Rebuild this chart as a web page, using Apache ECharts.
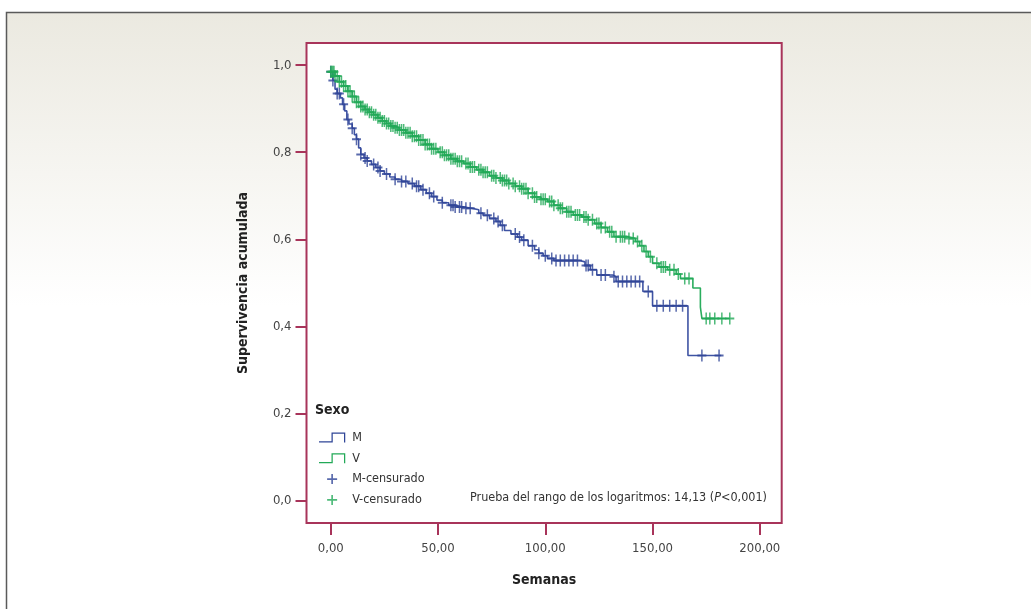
<!DOCTYPE html>
<html>
<head>
<meta charset="utf-8">
<script src="https://cdn.jsdelivr.net/npm/echarts@6/dist/echarts.min.js"></script>
<style>
  html, body { margin: 0; padding: 0; background: #fff; }
  #chart { width: 1031px; height: 609px; }
</style>
</head>
<body>
<div id="chart"></div>
<script>
// Kaplan-Meier curves by sex: step times (semanas) and cumulative survival after each step
var mTimes = [0, 1, 2, 3, 4.5, 5.5, 6.5, 7.5, 8.5, 10, 11, 12, 13, 14, 15.5, 17, 19, 21, 23, 25, 27.5, 30, 33, 36, 39, 42, 44.5, 47, 49.5, 52, 55, 58, 62, 66, 69, 71, 74, 77, 79, 81, 84, 87, 89, 92, 95, 97, 99, 101, 104, 116, 118.5, 121, 124, 131.5, 133, 145.5, 150, 166.5, 182];
var mSurv = [0.985, 0.965, 0.945, 0.935, 0.925, 0.91, 0.895, 0.875, 0.865, 0.855, 0.84, 0.83, 0.81, 0.795, 0.787, 0.78, 0.772, 0.765, 0.757, 0.75, 0.743, 0.738, 0.733, 0.728, 0.722, 0.714, 0.706, 0.698, 0.69, 0.684, 0.678, 0.674, 0.671, 0.668, 0.66, 0.655, 0.648, 0.641, 0.632, 0.62, 0.612, 0.605, 0.598, 0.585, 0.576, 0.568, 0.562, 0.556, 0.551, 0.548, 0.54, 0.53, 0.518, 0.514, 0.503, 0.48, 0.447, 0.333, 0.333];
var vTimes = [0, 2, 4, 6, 8, 10, 12, 14, 16, 18, 20, 22, 24, 26, 28, 30, 32, 35, 38, 41, 44, 47, 50, 53, 56, 59, 62, 65, 68, 71, 74, 77, 80, 83, 86, 89, 92, 95, 98, 101, 104, 107, 110, 113, 117, 120, 123, 126, 129, 132, 138, 142, 144, 146, 148, 150, 153, 157, 161, 163, 168.8, 172.3, 173, 186];
var vSurv = [0.985, 0.975, 0.962, 0.952, 0.94, 0.928, 0.915, 0.905, 0.898, 0.892, 0.886, 0.879, 0.872, 0.866, 0.86, 0.856, 0.851, 0.845, 0.837, 0.828, 0.818, 0.808, 0.8, 0.793, 0.785, 0.779, 0.774, 0.766, 0.76, 0.754, 0.746, 0.741, 0.735, 0.728, 0.722, 0.716, 0.706, 0.697, 0.692, 0.687, 0.678, 0.671, 0.663, 0.656, 0.651, 0.645, 0.636, 0.627, 0.617, 0.606, 0.602, 0.595, 0.585, 0.572, 0.56, 0.545, 0.536, 0.53, 0.52, 0.51, 0.488, 0.444, 0.418, 0.418];
// censored observations (semanas)
var mCensor = [0, 1, 3, 4, 6, 8, 10, 12, 14, 16, 17, 20, 22, 23, 26, 30, 33, 35, 38, 40, 41, 43, 46, 48, 52, 56, 57, 58, 60, 61, 63, 65, 70, 73, 76, 78, 80, 86, 88, 90, 94, 97, 100, 103, 105, 107, 109, 111, 113, 115, 119, 120, 122, 126, 128, 132, 134, 136, 138, 140, 142, 144, 148, 152, 155, 158, 161, 164, 173, 181];
var vCensor = [0, 0.5, 1, 1.5, 2, 3, 4, 5, 6, 7, 8, 9, 10, 11, 12, 13, 14, 15, 16, 17, 18, 19, 20, 21, 22, 23, 24, 25, 26, 27, 28, 29, 30, 31, 32, 33, 34, 35, 36, 37, 38, 39, 40, 41, 42, 43, 44, 45, 46, 47, 48, 49, 51, 52, 53, 54, 55, 56, 57, 58, 59, 60, 61, 63, 64, 65, 66, 67, 69, 70, 71, 72, 73, 75, 76, 77, 79, 80, 81, 82, 83, 85, 86, 88, 89, 90, 91, 92, 94, 95, 96, 98, 99, 100, 102, 103, 104, 106, 107, 108, 110, 111, 112, 114, 115, 116, 118, 119, 120, 122, 124, 125, 126, 128, 130, 131, 133, 135, 136, 137, 139, 141, 143, 145, 147, 149, 152, 154, 155, 156, 158, 160, 162, 165, 167, 175, 176.7, 179, 182.3, 186];
var xTicks = [0, 50, 100, 150, 200];
var yTicks = [0, 0.2, 0.4, 0.6, 0.8, 1.0];

var font = "'DejaVu Sans Condensed', 'Liberation Sans', sans-serif";
var frame = '#a8345a';
var blue = '#2f4597';
var green = '#22a957';
var plusIcon = 'path://M3.75,0h1.5v3.75h3.75v1.5h-3.75v3.75h-1.5v-3.75h-3.75v-1.5h3.75z';
var stepIcon = 'path://M0,7H10V0H21V8H20V1H11V8H0Z';

function pairs(times, surv) {
  return times.map(function(t, i) { return [t, surv[i]]; });
}
function censored(times, surv, cens) {
  return cens.map(function(c) {
    var s = surv[0];
    for (var i = 0; i < times.length; i++) { if (times[i] <= c) s = surv[i]; }
    return [c, s];
  });
}

var chart = echarts.init(document.getElementById('chart'));
chart.setOption({
  animation: false,
  textStyle: { fontFamily: font },
  graphic: [
    {
      type: 'rect', z: -10, silent: true,
      shape: { x: 6.5, y: 12.5, width: 1100, height: 700 },
      style: {
        fill: new echarts.graphic.LinearGradient(0, 0, 0, 1, [
          { offset: 0, color: '#ebe9e0' },
          { offset: 0.42, color: '#ffffff' },
          { offset: 1, color: '#ffffff' }
        ]),
        stroke: '#5a5a5a', lineWidth: 1.5
      }
    },
    {
      type: 'text', left: 315, top: 403,
      style: { text: 'Sexo', fill: '#222', font: 'bold 14px ' + font }
    },
    {
      type: 'text', right: 264, top: 491,
      style: {
        text: '{a|Prueba del rango de los logaritmos: 14,13 (}{i|P}{a|<0,001)}',
        rich: {
          a: { fontSize: 12.5, fontFamily: font, fill: '#333' },
          i: { fontSize: 12.5, fontFamily: font, fontStyle: 'italic', fill: '#333' }
        }
      }
    }
  ],
  grid: {
    left: 306.5, top: 43, right: 249.3, bottom: 86,
    show: true, backgroundColor: '#ffffff',
    borderColor: frame, borderWidth: 2
  },
  legend: {
    orient: 'vertical', left: 314, top: 426,
    itemWidth: 30, itemHeight: 10, itemGap: 7.8,
    textStyle: { fontSize: 12.5, color: '#333', fontFamily: font },
    data: [
      { name: 'M', icon: stepIcon },
      { name: 'V', icon: stepIcon },
      { name: 'M-censurado', icon: plusIcon },
      { name: 'V-censurado', icon: plusIcon }
    ]
  },
  xAxis: {
    type: 'value', min: -11.3, max: 210.2,
    name: 'Semanas', nameLocation: 'middle', nameGap: 50,
    nameTextStyle: { fontSize: 14, fontWeight: 'bold', color: '#222', fontFamily: font },
    axisLine: { show: false, onZero: false },
    splitLine: { show: false },
    axisTick: { show: true, length: 12, customValues: xTicks, lineStyle: { color: frame, width: 2 } },
    axisLabel: {
      customValues: xTicks, margin: 19, fontSize: 13, color: '#444',
      formatter: function(v) { return v.toFixed(2).replace('.', ','); }
    }
  },
  yAxis: {
    type: 'value', min: -0.052, max: 1.051,
    name: 'Supervivencia acumulada', nameLocation: 'middle', nameGap: 56,
    nameTextStyle: { fontSize: 14, fontWeight: 'bold', color: '#222', fontFamily: font },
    axisLine: { show: false, onZero: false },
    splitLine: { show: false },
    axisTick: { show: true, length: 11, customValues: yTicks, lineStyle: { color: frame, width: 2 } },
    axisLabel: {
      customValues: yTicks, margin: 15, fontSize: 13, color: '#444',
      formatter: function(v) { return v.toFixed(1).replace('.', ','); }
    }
  },
  series: [
    {
      name: 'M', type: 'line', step: 'end', showSymbol: false,
      data: pairs(mTimes, mSurv),
      itemStyle: { color: blue },
      lineStyle: { color: '#3e53a3', width: 1.6 }
    },
    {
      name: 'V', type: 'line', step: 'end', showSymbol: false,
      data: pairs(vTimes, vSurv),
      itemStyle: { color: green },
      lineStyle: { color: '#2aad5e', width: 1.6 }
    },
    {
      name: 'M-censurado', type: 'scatter', symbol: plusIcon, symbolSize: [9, 12],
      symbolKeepAspect: false, z: 3,
      data: censored(mTimes, mSurv, mCensor),
      itemStyle: { color: blue }
    },
    {
      name: 'V-censurado', type: 'scatter', symbol: plusIcon, symbolSize: [9, 12],
      symbolKeepAspect: false, z: 3,
      data: censored(vTimes, vSurv, vCensor),
      itemStyle: { color: green }
    }
  ]
});
window.addEventListener('resize', function() { chart.resize(); });
</script>
</body>
</html>
